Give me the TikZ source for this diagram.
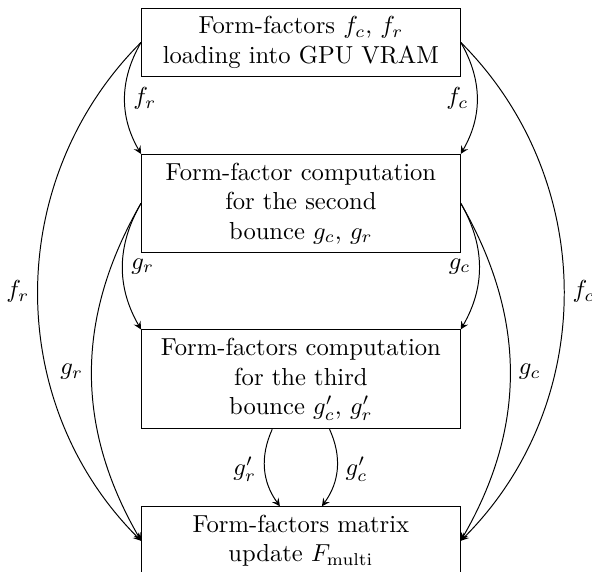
\documentclass[tikz,border=0pt]{standalone}
\usetikzlibrary{positioning}
\begin{document}
\begin{tikzpicture}[
    stage/.style={draw,text width=4.32cm,align=center},
    >=stealth]
    \useasboundingbox (0,0) rectangle (8.46,-8.16);

    \node[stage,anchor=north] (load) at (4.30,-0.11)
      {Form-factors $f_c$, $f_r$\\ loading into GPU VRAM};
    \node[stage,below=1.1cm of load] (second)
      {Form-factor computation\\ for the second\\ bounce $g_c$, $g_r$};
    \node[stage,below=1.1cm of second] (third)
      {Form-factors computation\\ for the third\\ bounce $g'_c$, $g'_r$};
    \node[stage,below=1.1cm of third] (update)
      {Form-factors matrix\\ update $F_{\mathrm{multi}}$};

    % left side
    \draw[->] (load.west) to[bend right] node[right] {$f_r$} (second.north west);
    \draw[->] (load.west) to[bend right=45] node[left] {$f_r$} (update.west);
    \draw[->] (second.west) to[bend right] node[right] {$g_r$} (third.north west);
    \draw[->] (second.west) to[bend right] node[left] {$g_r$} (update.west);

    % right side
    \draw[->] (load.east) to[bend left] node[left] {$f_c$} (second.north east);
    \draw[->] (load.east) to[bend left=45] node[right] {$f_c$} (update.east);
    \draw[->] (second.east) to[bend left] node[left] {$g_c$} (third.north east);
    \draw[->] (second.east) to[bend left] node[right] {$g_c$} (update.east);

    % middle
    \draw[->] ([xshift=-0.41cm]third.south) to[bend right] node[left] {$g'_r$}
      ([xshift=-0.3cm]update.north);
    \draw[->] ([xshift=0.41cm]third.south) to[bend left] node[right] {$g'_c$}
      ([xshift=0.3cm]update.north);
\end{tikzpicture}
\end{document}
